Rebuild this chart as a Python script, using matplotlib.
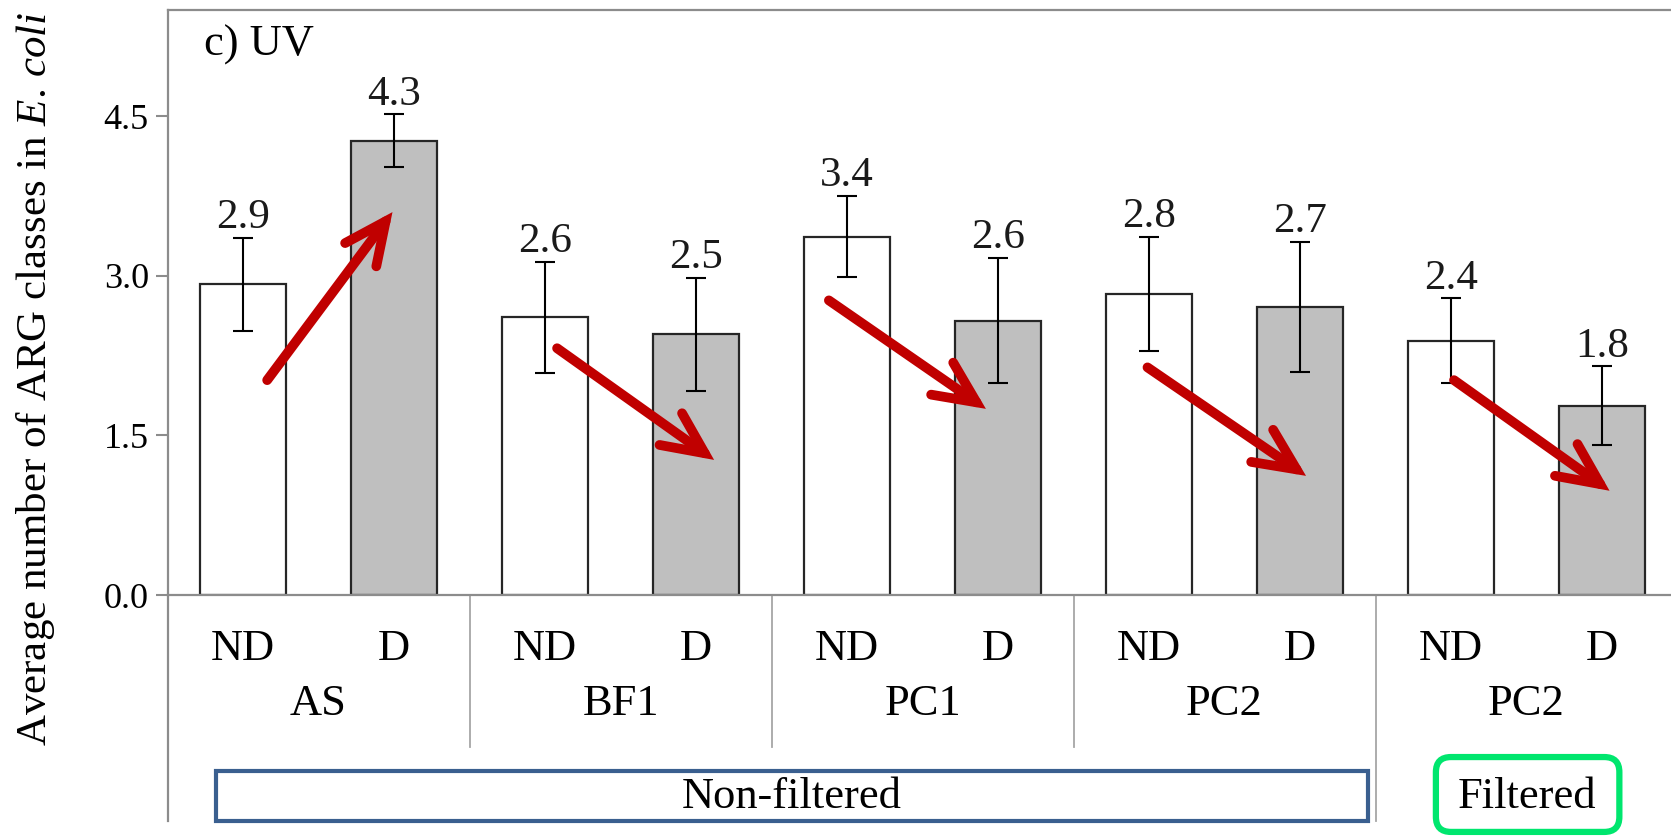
import matplotlib
matplotlib.use("Agg")
import matplotlib.pyplot as plt
import matplotlib.transforms as mtransforms
from matplotlib.patches import Rectangle, FancyBboxPatch
import numpy as np

# ---- data ----
groups = ["AS", "BF1", "PC1", "PC2", "PC2"]
treatments = ["ND", "D"]
nd_values = [2.92, 2.61, 3.37, 2.83, 2.39]
d_values = [4.27, 2.45, 2.58, 2.71, 1.78]
nd_errors = [0.44, 0.52, 0.38, 0.54, 0.40]
d_errors = [0.25, 0.53, 0.59, 0.61, 0.37]
nd_labels = ["2.9", "2.6", "3.4", "2.8", "2.4"]
d_labels = ["4.3", "2.5", "2.6", "2.7", "1.8"]
y_ticks = [0.0, 1.5, 3.0, 4.5]
y_tick_labels = ["0.0", "1.5", "3.0", "4.5"]
# trend arrows (start x, start y, end x, end y) in data units
arrow_starts = [(0.16, 2.02), (2.08, 2.32), (3.88, 2.77), (5.99, 2.14), (8.02, 2.02)]
arrow_ends = [(0.99, 3.60), (3.12, 1.27), (4.92, 1.75), (7.04, 1.12), (9.05, 0.98)]

plt.rcParams["font.family"] = ["Liberation Serif", "DejaVu Serif"]
plt.rcParams["mathtext.fontset"] = "custom"
plt.rcParams["mathtext.rm"] = "Liberation Serif"
plt.rcParams["mathtext.it"] = "Liberation Serif:italic"

W, H = 1671, 839
fig = plt.figure(figsize=(W / 100, H / 100), dpi=100)
left_px, right_px, top_px, bot_px = 167.5, 1677.5, 10.0, 595.0
ax = fig.add_axes([left_px / W, 1 - bot_px / H, (right_px - left_px) / W, (bot_px - top_px) / H])

spine_col = "#8C8C8C"
bar_w = 0.57
n = len(groups)
x_nd = np.arange(n) * 2
x_d = x_nd + 1
FS = 32

ax.bar(x_nd, nd_values, width=bar_w, color="white", edgecolor="#262626", linewidth=1.6, zorder=2)
ax.bar(x_d, d_values, width=bar_w, color="#BFBFBF", edgecolor="#262626", linewidth=1.6, zorder=2)
ax.errorbar(x_nd, nd_values, yerr=nd_errors, fmt="none", ecolor="black", elinewidth=1.5,
            capsize=7, capthick=1.5, zorder=3)
ax.errorbar(x_d, d_values, yerr=d_errors, fmt="none", ecolor="black", elinewidth=1.5,
            capsize=7, capthick=1.5, zorder=3)

for xs, vals, errs, labs in [(x_nd, nd_values, nd_errors, nd_labels), (x_d, d_values, d_errors, d_labels)]:
    for x, v, e, lab in zip(xs, vals, errs, labs):
        ax.annotate(lab, (x, v + e), xytext=(0, 7), textcoords="offset points",
                    ha="center", va="baseline", fontsize=31, color="#1a1a1a")

for (x0, y0), (x1, y1) in zip(arrow_starts, arrow_ends):
    ax.annotate("", xy=(x1, y1), xytext=(x0, y0),
                arrowprops=dict(arrowstyle="->,head_length=3.0,head_width=1.4",
                                mutation_scale=10, lw=7, color="#C00000",
                                shrinkA=0, shrinkB=0, joinstyle="miter", capstyle="round"),
                zorder=5)

ax.set_xlim(-0.5, 2 * n - 0.5)
ax.set_ylim(0, 5.5)
ax.set_yticks(y_ticks)
ax.set_yticklabels(y_tick_labels, fontsize=26)
ax.tick_params(axis="y", direction="out", length=8.5, width=1.5, color=spine_col, pad=5)
ax.set_xticks([])
for s in ["left", "top", "bottom"]:
    ax.spines[s].set_color(spine_col)
    ax.spines[s].set_linewidth(1.6)
ax.spines["right"].set_visible(False)

fig.text(36 / W, 1 - 379 / H, "Average number of ARG classes in $\\mathit{E.\\,coli}$",
         rotation=90, ha="center", va="center", fontsize=31)

ax.text(0.024, 0.94, "c) UV", transform=ax.transAxes, fontsize=FS, ha="left", va="center")

blend = mtransforms.blended_transform_factory(ax.transData, ax.transAxes)
# category labels
for i in range(n):
    for j, t in enumerate(treatments):
        ax.text(2 * i + j, -0.093, t, transform=blend, ha="center", va="center", fontsize=FS)
    ax.text(2 * i + 0.5, -0.186, groups[i], transform=blend, ha="center", va="center", fontsize=FS)
# separators
for i in range(1, n):
    bottom = -0.387 if i == n - 1 else -0.259
    ax.plot([2 * i - 0.5] * 2, [0, bottom], transform=blend, color="#A6A6A6", lw=1.3, clip_on=False)
ax.plot([0, 0], [0, -0.387], transform=ax.transAxes, color=spine_col, lw=1.6, clip_on=False)

# group boxes
ax.add_patch(Rectangle((-0.18, -0.387), 7.63, 0.086, transform=blend, fill=False,
                       edgecolor="#3A5F8F", lw=3, clip_on=False))
ax.text((-0.18 + 7.45) / 2, -0.345, "Non-filtered", transform=blend, ha="center", va="center", fontsize=FS)
ax.add_patch(FancyBboxPatch((7.90, -0.405), 1.215, 0.128, transform=blend,
                            boxstyle="round,pad=0,rounding_size=0.1", mutation_aspect=151 / 585,
                            fc="white", ec="#00E66E", lw=4.5, clip_on=False))
ax.text(8.5, -0.345, "Filtered", transform=blend, ha="center", va="center", fontsize=FS)

fig.savefig("out.png", dpi=100)
